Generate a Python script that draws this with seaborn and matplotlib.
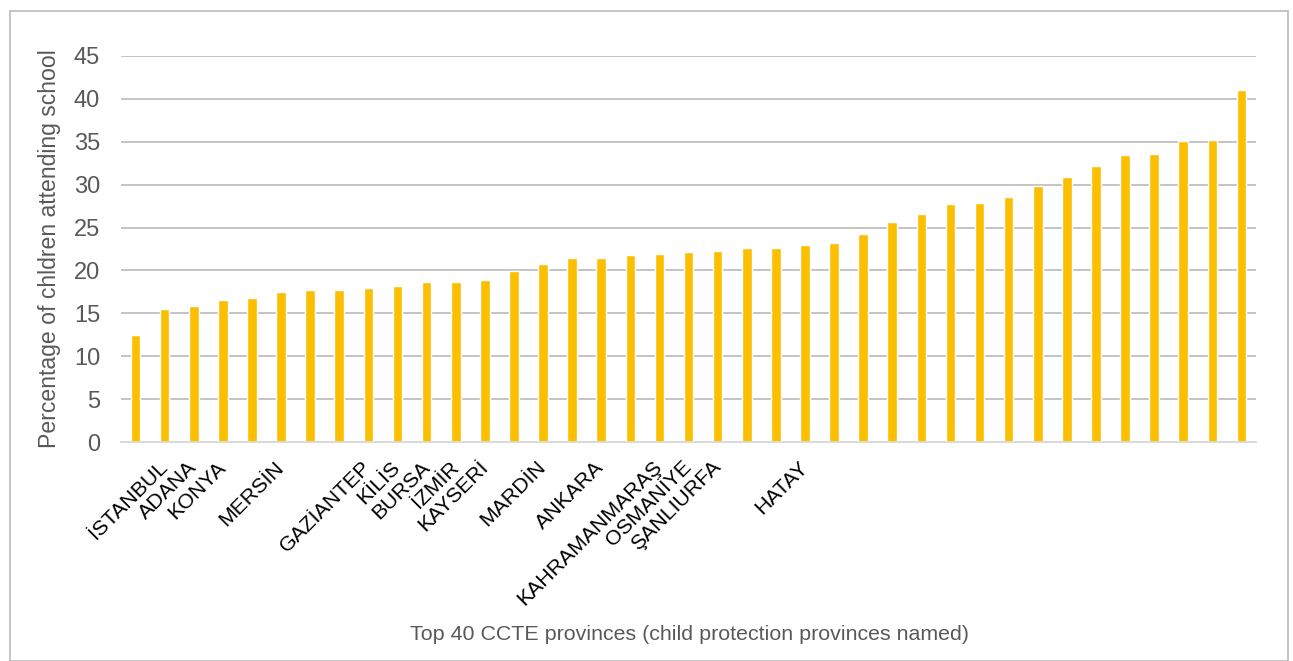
import numpy as np
import pandas as pd
import matplotlib
matplotlib.use("Agg")
import matplotlib.pyplot as plt
from matplotlib.patches import Rectangle
import seaborn as sns

# percentage of children attending school, sorted ascending
values = [12.5, 15.5, 15.8, 16.5, 16.8, 17.5, 17.7, 17.7, 17.95, 18.2,
          18.6, 18.65, 18.9, 19.9, 20.7, 21.45, 21.45, 21.75, 21.9, 22.15,
          22.3, 22.6, 22.6, 22.95, 23.2, 24.25, 25.7, 26.6, 27.8, 27.9,
          28.55, 29.9, 30.9, 32.2, 33.45, 33.6, 35.05, 35.2, 41.0]

# only the child protection provinces carry a name
province_labels = ["", "İSTANBUL", "ADANA", "KONYA", "", "MERSİN", "", "",
                   "GAZİANTEP", "KİLİS", "BURSA", "İZMİR", "KAYSERİ", "",
                   "MARDİN", "", "ANKARA", "", "KAHRAMANMARAŞ", "OSMANİYE",
                   "ŞANLIURFA", "", "", "HATAY", "", "", "", "", "", "",
                   "", "", "", "", "", "", "", "", ""]

y_ticks = [0, 5, 10, 15, 20, 25, 30, 35, 40, 45]

df = pd.DataFrame({"pos": range(len(values)), "pct": values})

sns.set_style("white")
plt.rcParams["font.family"] = ["Liberation Sans", "DejaVu Sans"]

fig = plt.figure(figsize=(12.93, 6.61), dpi=100)
ax = fig.add_axes([0.0936, 0.3313, 0.8778, 0.584])

sns.barplot(data=df, x="pos", y="pct", color="#FBBF00", saturation=1,
            width=0.33, ax=ax)

ax.set_ylim(0, 45)
ax.set_xlim(-0.5, len(values) - 0.5)
ax.set_yticks(y_ticks)
ax.set_yticklabels([str(t) for t in y_ticks], fontsize=17, color="#595959")
ax.yaxis.grid(True, color="#BFBFBF", linewidth=1.3)
ax.set_axisbelow(True)
ax.tick_params(axis="y", length=0, pad=15)
ax.tick_params(axis="x", length=0, pad=16)

ax.set_xticks(range(len(values)))
ax.set_xticklabels(province_labels, rotation=45, ha="right", va="center",
                   rotation_mode="anchor", fontsize=15.3, color="black")

for side in ["top", "right", "left"]:
    ax.spines[side].set_visible(False)
ax.spines["bottom"].set_color("#D9D9D9")
ax.spines["bottom"].set_linewidth(1.3)

ax.set_xlabel("")
ax.set_ylabel("Percentage of chldren attending school", fontsize=16.6,
              color="#595959")
ax.yaxis.set_label_coords(-0.053, 0.5)
fig.text(0.533, 0.04, "Top 40 CCTE provinces (child protection provinces named)",
         ha="center", va="center", fontsize=15.4, color="#595959")

# chart border
fig.patches.append(Rectangle((10 / 1293, 0), 1278 / 1293, 650 / 661,
                             transform=fig.transFigure, fill=False,
                             edgecolor="#BFBFBF", linewidth=1.3))

fig.savefig("out.png", dpi=100)
